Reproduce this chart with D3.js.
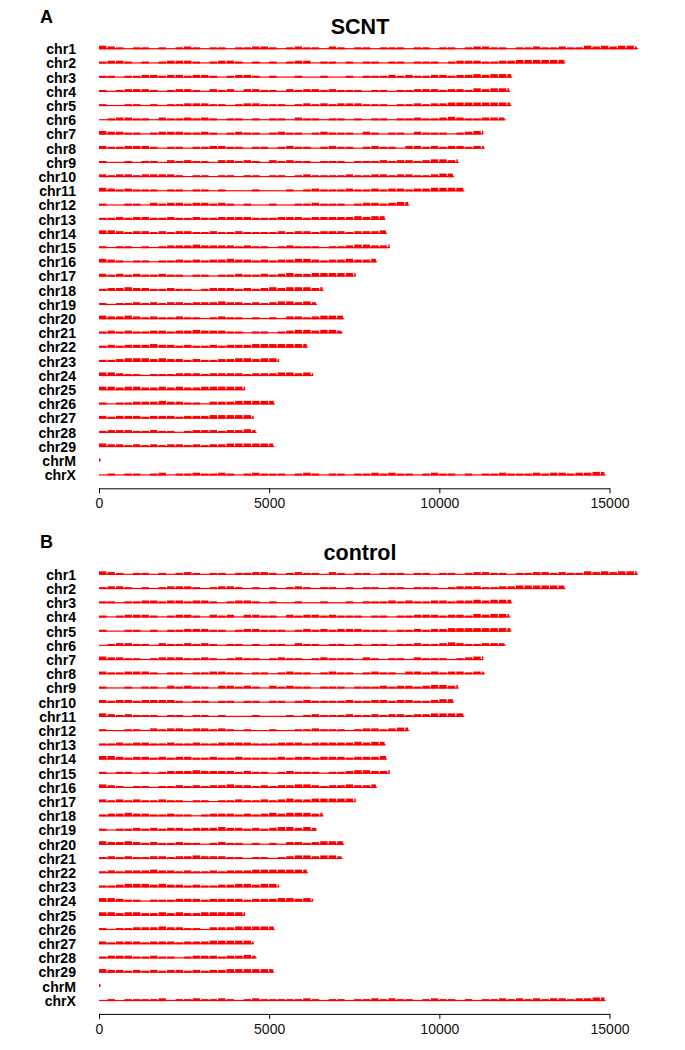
<!DOCTYPE html>
<html>
<head>
<meta charset="utf-8">
<script src="https://cdnjs.cloudflare.com/ajax/libs/d3/7.8.5/d3.min.js"></script>
<style>
  body { margin: 0; background: #fff; }
  svg { display: block; }
</style>
</head>
<body>
<div id="chart"></div>
<script>
// chromosome names and lengths, in 10-kb bins
const chromosomes = ['chr1', 'chr2', 'chr3', 'chr4', 'chr5', 'chr6', 'chr7', 'chr8', 'chr9', 'chr10',
	'chr11', 'chr12', 'chr13', 'chr14', 'chr15', 'chr16', 'chr17', 'chr18', 'chr19', 'chr20',
	'chr21', 'chr22', 'chr23', 'chr24', 'chr25', 'chr26', 'chr27', 'chr28', 'chr29', 'chrM', 'chrX']
const chromLengths = [15834, 13704, 12142, 12083, 12119, 11946, 11260, 11339, 10571, 10431,
	10736, 9116, 8424, 8465, 8532, 8169, 7516, 6600, 6406, 7204,
	7159, 6138, 5251, 6271, 4290, 5168, 4543, 4631, 5150, 2, 14882]

// read density per 250-bin window, 0 = baseline only .. 3 = dense
const binSize = 250
const scntDensity = [
	'3210110101210110112210121102101101110110110122110112112113232332',
	'1221010122210122101010122011010110110111012221122333333',
	'1101122122122101221010010010010111212112212232333',
	'1012221012210212022110212212111011011222122132333',
	'1001101011222110122111012121222111011212233333333',
	'012211021121210110101102110110101101121123211222',
	'3221101222112101211012110121110210110211101233',
	'2112221011011221101101211012110121102212122122',
	'1001011021211022121021211011101112122123323',
	'212212222101101101101101211112112212211233',
	'3212111011011010001000101211121121221223333',
	'1001102122122121010010011211101221233',
	'1121221121121122221112221222223233',
	'3321221212211211211112122122212223',
	'10110101222322221211012111011233223',
	'321011011212122322121223321223223',
	'2121211211011011211212322333333',
	'122322112110122212123233323',
	'10112121221222322121233232',
	'32232121121101211010102212333',
	'12121122122322211011012332332',
	'1212223221211212223333333',
	'1123332322121122332332',
	'33211011122212222122233232',
	'332332232322333333',
	'101122232211022233333',
	'2122212221222333332',
	'1222112110122212232',
	'322121212212122333333',
	'2',
	'010110120112112101211101210110112121101211010112111212212233'
]
const controlDensity = [
	'3210110101210110112210121102101101110110110122110112212113232333',
	'1221010122210122101010121011010110110111012221122333333',
	'1101122122122101221010010010010111212112212232333',
	'1012221012210212022110212212111011011222122132333',
	'1001101011222110122111012121222111011212233333333',
	'012211021121210110101102110110101101121123211222',
	'3221101222112101211012110121110210110211101233',
	'2112221011011221101101211012110121102212122122',
	'1001011021211022121021211011101112122123323',
	'212212222101101101101101211112112212211233',
	'3212111011011010001000101211121121221223333',
	'1001102122122121010010011211101221233',
	'1121221121121122221112221222223233',
	'3321221212211211211112122122212223',
	'10110101222322221211012111011233223',
	'321011011212122322121223321223223',
	'2121211211011011211212322333333',
	'122322112110122212123233323',
	'10112121221222322121233232',
	'32232121121101211010102212333',
	'12121122122322211011012332332',
	'1212223221211212223333333',
	'1123332322121122332332',
	'33211011122212222122233232',
	'332332232322333333',
	'101122232211022233333',
	'2122212221222333332',
	'1222112110122212232',
	'322121212212122333333',
	'2',
	'010111120112112101211111210110112121101211010112121212212233'
]
const xTicks = [0, 5000, 10000, 15000]

const width = 685
const height = 1050
const red = '#ff0000'

const svg = d3.select('#chart').append('svg')
	.attr('width', width)
	.attr('height', height)

const x = d3.scaleLinear().domain([0, 15000]).range([99, 609.5])
const binPx = x(binSize) - x(0)

function drawPanel(letter, title, density, offset) {
	const g = svg.append('g').attr('transform', `translate(0,${offset})`)

	const y = d3.scalePoint().domain(chromosomes).range([48.7, 474.9])

	g.append('text')
		.attr('x', 40)
		.attr('y', 22.5)
		.attr('font-family', 'Liberation Sans, Arial, sans-serif')
		.attr('font-weight', 'bold')
		.attr('font-size', 18)
		.text(letter)

	g.append('text')
		.attr('x', 360)
		.attr('y', 34)
		.attr('text-anchor', 'middle')
		.attr('font-family', 'Liberation Sans, Arial, sans-serif')
		.attr('font-weight', 'bold')
		.attr('font-size', 21.5)
		.text(title)

	// row labels
	g.selectAll('text.chr')
		.data(chromosomes)
		.enter()
		.append('text')
		.attr('class', 'chr')
		.attr('transform', d => `translate(76,${y(d)}) scale(0.94,1)`)
		.attr('text-anchor', 'end')
		.attr('dy', '0.36em')
		.attr('font-family', 'Liberation Sans, Arial, sans-serif')
		.attr('font-weight', 'bold')
		.attr('font-size', 15)
		.text(d => d)

	chromosomes.forEach((name, i) => {
		const len = chromLengths[i]
		const row = g.append('g').attr('transform', `translate(0,${y(name)})`)

		// baseline
		row.append('rect')
			.attr('x', x(0))
			.attr('y', -0.6)
			.attr('width', Math.max(1.5, x(len) - x(0)))
			.attr('height', 1.2)
			.attr('fill', red)

		const nBins = Math.ceil(len / binSize)
		const bins = density[i].split('').slice(0, nBins).map(Number)

		row.selectAll('rect.bin')
			.data(bins.map((v, k) => ({ v, k })).filter(d => d.v > 0))
			.enter()
			.append('rect')
			.attr('class', 'bin')
			.attr('x', d => x(d.k * binSize))
			.attr('y', d => 0.6 - (1.2 + d.v * 0.8))
			.attr('width', d => Math.max(1.5, Math.min(x((d.k + 1) * binSize), x(len)) - x(d.k * binSize) - (nBins > 1 ? 1.1 : 0)))
			.attr('height', d => 1.2 + d.v * 0.8)
			.attr('fill', red)
	})

	const axis = d3.axisBottom(x)
		.tickValues(xTicks)
		.tickFormat(d3.format('d'))
		.tickSize(5)
		.tickSizeOuter(0)
		.tickPadding(5)

	const ax = g.append('g')
		.attr('transform', 'translate(0,488.3)')
		.call(axis)

	ax.select('.domain').attr('stroke', '#000').attr('stroke-width', 1)
	ax.selectAll('.tick line').attr('stroke', '#000')
	ax.selectAll('.tick text')
		.attr('font-family', 'Liberation Sans, Arial, sans-serif')
		.attr('font-size', 14)
		.attr('fill', '#111')
}

drawPanel('A', 'SCNT', scntDensity, 0)
drawPanel('B', 'control', controlDensity, 525.6)
</script>
</body>
</html>
